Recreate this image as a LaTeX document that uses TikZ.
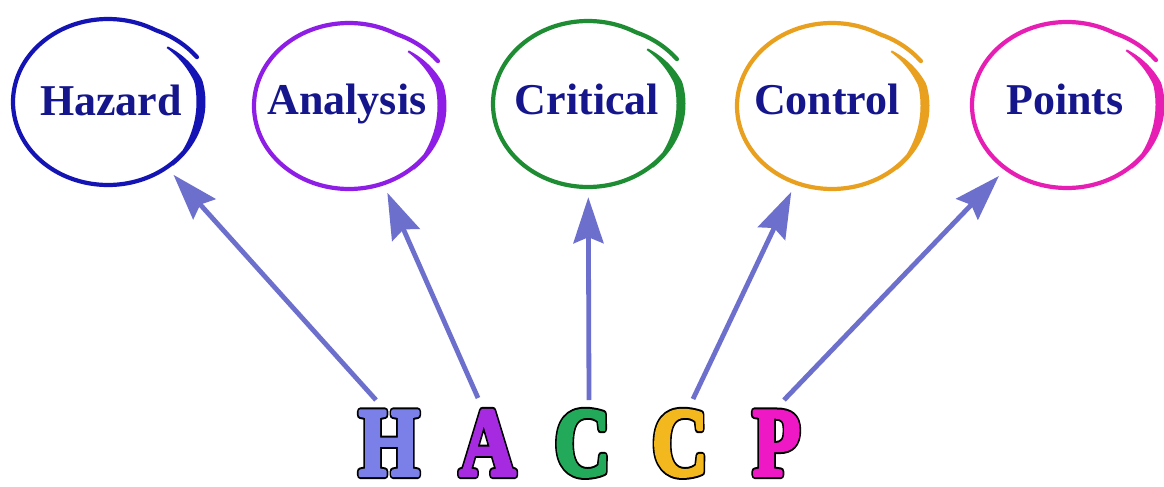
\documentclass[tikz,border=0pt]{standalone}
\usepackage{fontspec}
\setmainfont{Liberation Serif}
\usetikzlibrary{arrows.meta,shapes.geometric}
\definecolor{wordblue}{HTML}{16168C}
\definecolor{arrowblue}{HTML}{6C6FCC}
\definecolor{ringH}{HTML}{1414B4}
\definecolor{ringA}{HTML}{8E1EE6}
\definecolor{ringC}{HTML}{1E8C32}
\definecolor{ringK}{HTML}{E8A01E}
\definecolor{ringP}{HTML}{E61EB4}
\definecolor{letH}{HTML}{7B80E8}
\definecolor{letA}{HTML}{A52AE0}
\definecolor{letC}{HTML}{22AA5A}
\definecolor{letK}{HTML}{F2B81E}
\definecolor{letP}{HTML}{EE18C4}
% #1 letter, #2 rgb of the fill as "r g b"
\newcommand\outlined[2]{%
  \rlap{\special{pdf:literal direct 2 Tr 0 G 8 w 1 j}#1}%
  \special{pdf:literal direct 2 Tr #2 RG 4 w 1 j}#1%
  \special{pdf:literal direct 0 Tr}}
\tikzset{
  ring/.style={ellipse, minimum width=190pt, minimum height=166pt, inner sep=0pt},
  word/.style={font=\bfseries\fontsize{44}{44}\selectfont, text=wordblue, inner sep=0pt, anchor=base},
  link/.style={draw=arrowblue, line width=4.8pt, -{Stealth[length=46pt,width=30pt,inset=6pt]}, shorten >=10pt},
  letter/.style={font=\bfseries\fontsize{97}{97}\selectfont, inner sep=0pt, anchor=base, xscale=0.8},
}
% #1 cx, #2 cy, #3 colour, #4 node name
\newcommand\handring[4]{%
  \node[ring] (#4) at (#1,#2) {};
  \draw[#3, line width=4.2pt, line cap=round]
    plot[domain=30:322, samples=90, smooth]
      ({#1+95*(1+0.0027*max(0,60-\x))*cos(\x)}, {#2-83*(1+0.0027*max(0,60-\x))*sin(\x)});
  \fill[#3]
    plot[domain=-48:47, samples=50, smooth]
      ({#1+(97.5-0.3*max(0,\x-15))*cos(\x)}, {#2-(85.5-0.3*max(0,\x-15))*sin(\x)})
    -- plot[domain=47:-48, samples=50, smooth]
      ({#1+(97.5-0.3*max(0,\x-15)-2-7*sin((\x+48)*1.8947))*cos(\x)},
       {#2-(85.5-0.3*max(0,\x-15)-2-7*sin((\x+48)*1.8947))*sin(\x)})
    -- cycle;
}
\begin{document}
\begin{tikzpicture}[x=1pt, y=-1pt]
  \useasboundingbox[fill=white] (0,0) rectangle (1164,487);
  % rings
  \handring{108}{102}{ringH}{hz}
  \handring{349}{106}{ringA}{an}
  \handring{588}{104}{ringC}{cr}
  \handring{832}{106}{ringK}{co}
  \handring{1067}{105}{ringP}{po}
  % words
  \node[word] (hzt) at (111,115) {Hazard};
  \node[word] (ant) at (347,114) {Analysis};
  \node[word] (crt) at (587,114) {Critical};
  \node[word] (cot) at (827,114) {Control};
  \node[word] (pot) at (1065,114) {Points};
  % letters
  \node[letter, text=letH] (lH) at (389,475) {\outlined{H}{0.482 0.502 0.910}};
  \node[letter, text=letA] (lA) at (487.5,475) {\outlined{A}{0.647 0.165 0.878}};
  \node[letter, text=letC] (lC) at (582.5,475) {\outlined{C}{0.133 0.667 0.353}};
  \node[letter, text=letK] (lK) at (680,475) {\outlined{C}{0.949 0.722 0.118}};
  \node[letter, text=letP] (lP) at (776.5,475) {\outlined{P}{0.933 0.094 0.769}};
  % arrows
  \coordinate (t1) at (376,400);
  \coordinate (t2) at (478,398);
  \coordinate (t3) at (589,400);
  \coordinate (t4) at (693,399);
  \coordinate (t5) at (784,400);
  \draw[link] (t1) -- (hz);
  \draw[link] (t2) -- (an);
  \draw[link] (t3) -- (cr);
  \draw[link] (t4) -- (co);
  \draw[link] (t5) -- (po);
\end{tikzpicture}
\end{document}
